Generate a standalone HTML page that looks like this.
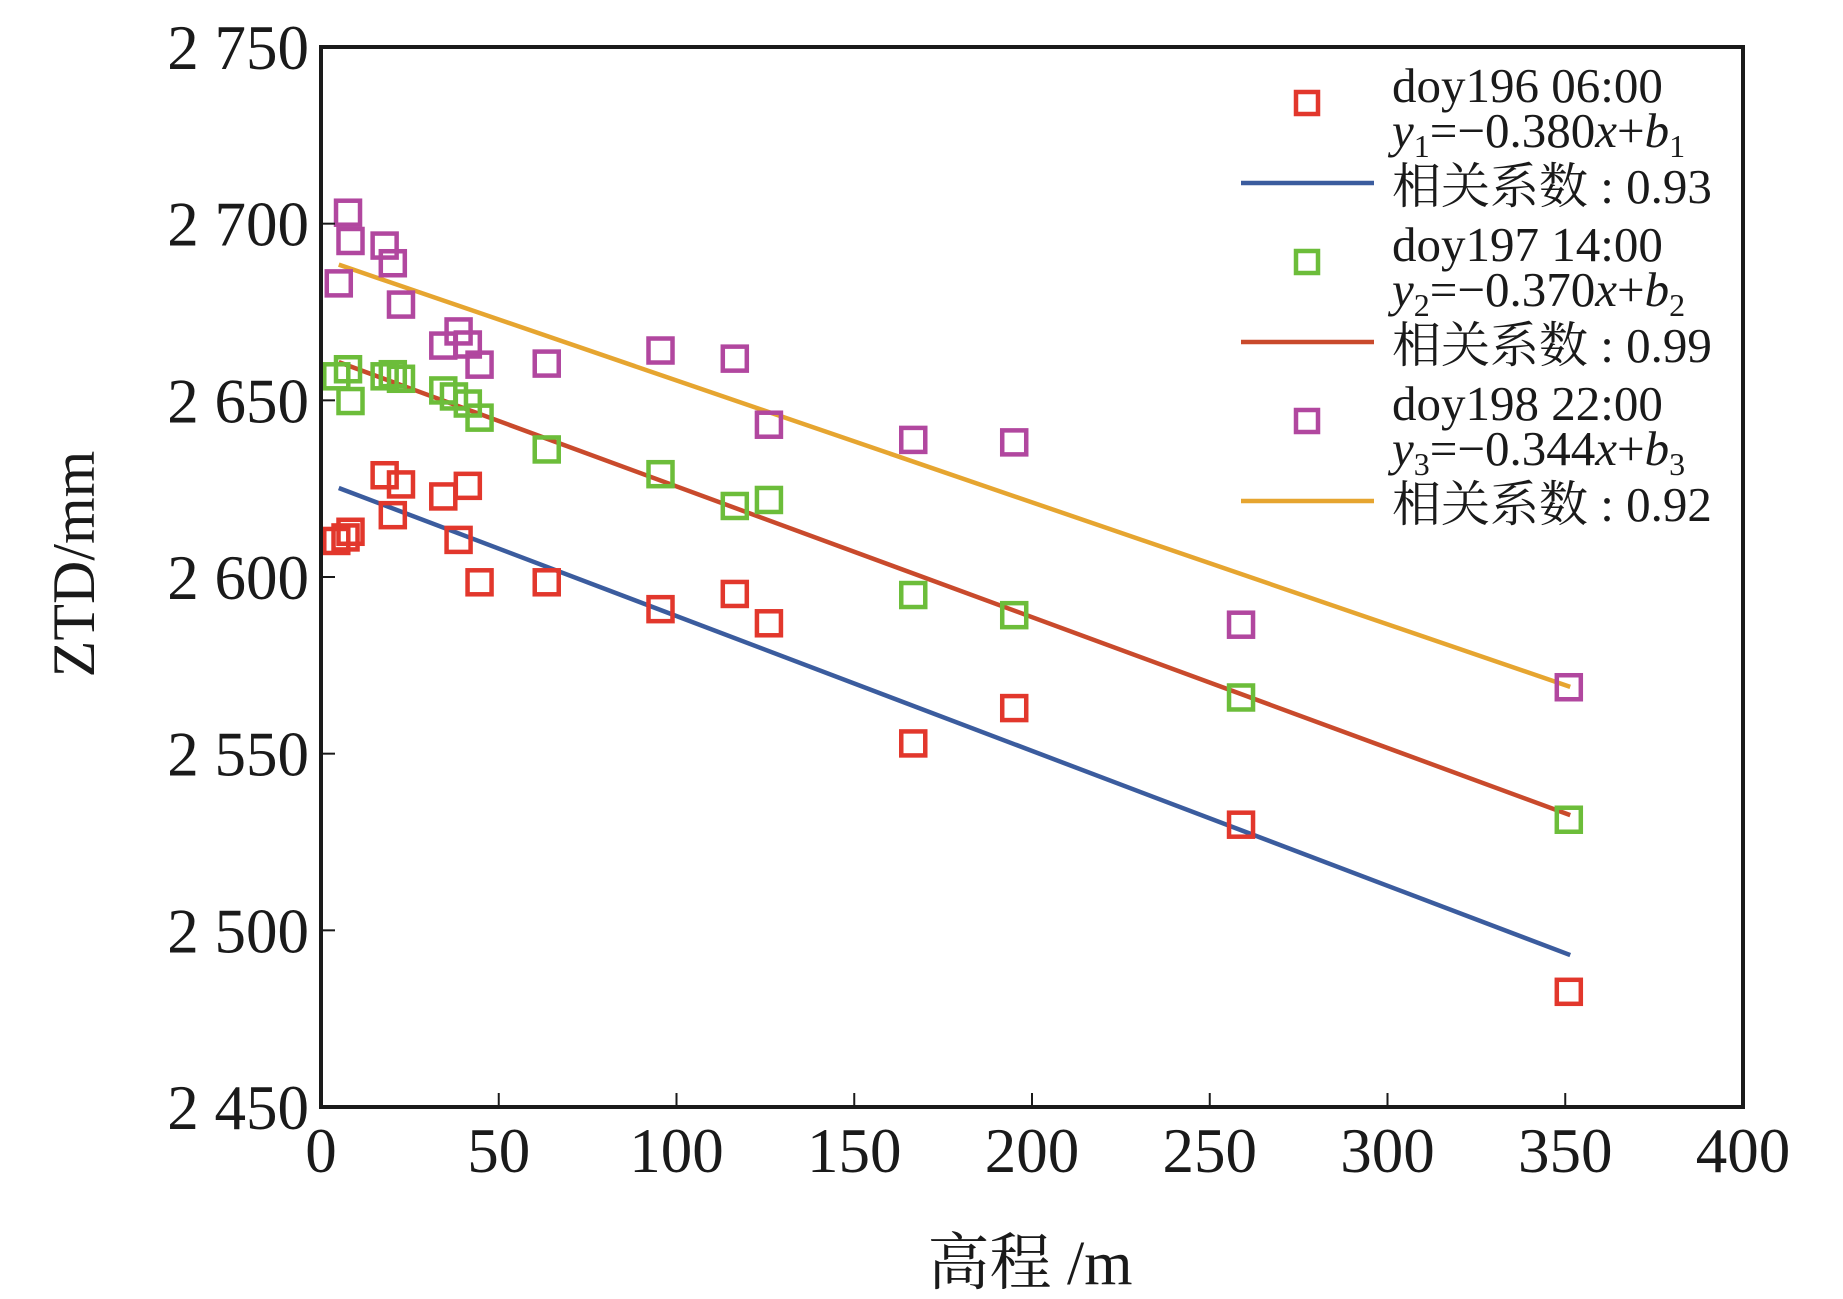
<!DOCTYPE html>
<html><head><meta charset="utf-8"><style>
html,body{margin:0;padding:0;background:#fff}
svg{display:block}
text{font-family:"Liberation Serif","Noto Serif CJK SC","Noto Sans CJK SC",serif;fill:#1a1a1a}
</style></head><body>
<svg id="chart" width="1843" height="1299" viewBox="0 0 1843 1299" xmlns="http://www.w3.org/2000/svg">
<g id="plot"></g>
</svg>
<script>
const xTicks=[0,50,100,150,200,250,300,350,400];
const yTicks=[2450,2500,2550,2600,2650,2700,2750];
const yTickLabels=["2 450","2 500","2 550","2 600","2 650","2 700","2 750"];
const heights=[4.3,6.9,8.3,17.9,20.2,22.5,34.4,38.7,41.3,44.6,63.5,95.5,116.4,126,166.6,195,258.8,351];
const ztd196=[2610.2,2611.2,2612.8,2628.8,2617.5,2626.2,2622.8,2610.5,2625.8,2598.5,2598.5,2590.9,2595.2,2586.9,2552.9,2562.9,2529.9,2482.6];
const heights197=[4.3,7.6,8.3,17.9,20.2,22.5,34.4,37.4,41.3,44.6,63.5,95.5,116.4,126,166.6,195,258.8,351];
const ztd197=[2656.8,2658.8,2649.8,2656.8,2657.4,2656.1,2652.8,2651.1,2649.1,2645.1,2636.1,2629.1,2620.1,2621.8,2594.9,2589.2,2565.9,2531.3];
const heights198=[5,7.6,8.3,17.9,20.2,22.5,34.4,38.7,41.3,44.6,63.5,95.5,116.4,126,166.6,195,258.8,351];
const ztd198=[2683.1,2703.1,2695.1,2693.8,2688.8,2677.1,2665.5,2669.5,2665.8,2660.1,2660.4,2664.1,2661.8,2643.1,2638.8,2638.1,2586.5,2568.8];
const fitX=[5,351.4];
const fit196=[2625.2,2493.0];
const fit197=[2660.8,2532.6];
const fit198=[2688.4,2568.9];

const L=321,R=1743,T=47,B=1107;
const X=v=>L+(v-0)*(R-L)/400;
const Y=v=>B-(v-2450)*(B-T)/300;
const NS="http://www.w3.org/2000/svg";
const svg=document.getElementById('chart');
function mk(tag,attrs,parent){const e=document.createElementNS(NS,tag);for(const k in attrs)e.setAttribute(k,attrs[k]);(parent||svg).appendChild(e);return e;}

const lines=[[fit196,'#3b5c9e','fit-line-doy196'],[fit197,'#c94a2c','fit-line-doy197'],[fit198,'#e6a530','fit-line-doy198']];
lines.forEach(([f,c,n])=>{
 const l=mk('line',{x1:X(fitX[0]),y1:Y(f[0]),x2:X(fitX[1]),y2:Y(f[1]),stroke:c,'stroke-width':4.5});
 
 
});
const series=[[heights,ztd196,'#e2372c','point-doy196'],[heights197,ztd197,'#6cbd3a','point-doy197'],[heights198,ztd198,'#b1479f','point-doy198']];
const s=24;
series.forEach(([xs,ys,c,n])=>{
 xs.forEach((x,i)=>{
  const r=mk('rect',{x:X(x)-s/2,y:Y(ys[i])-s/2,width:s,height:s,fill:'none',stroke:c,'stroke-width':4.5});
  
  
 });
});
const fr=mk('rect',{x:L,y:T,width:R-L,height:B-T,fill:'none',stroke:'#1a1a1a','stroke-width':4});


xTicks.forEach(v=>{
 const t=mk('line',{x1:X(v),y1:B,x2:X(v),y2:B-14,stroke:'#1a1a1a','stroke-width':2});
 
 
 const tx=mk('text',{x:X(v),y:1172,'text-anchor':'middle','font-size':63});
 tx.textContent=v;
 
 
});
yTicks.forEach((v,i)=>{
 const t=mk('line',{x1:L,y1:Y(v),x2:L+14,y2:Y(v),stroke:'#1a1a1a','stroke-width':2});
 
 
 const tx=mk('text',{x:309,y:Y(v)+22,'text-anchor':'end','font-size':63});
 tx.textContent=yTickLabels[i];
 
 
});
</script>
<svg style="position:absolute;left:0;top:0" width="1843" height="1299" xmlns="http://www.w3.org/2000/svg">
<text x="80" y="564" font-size="60" text-anchor="middle" transform="rotate(-90 80 564)" dominant-baseline="middle">ZTD/mm</text>
<text x="1030" y="1284" font-size="62" text-anchor="middle">高程 /m</text>
<g font-size="49">
 <rect x="1296" y="92" width="22" height="22" fill="none" stroke="#e2372c" stroke-width="4.5"/>
 <text x="1392" y="102">doy196 06:00</text>
 <text x="1392" y="147"><tspan font-style="italic">y</tspan><tspan font-size="32" dy="10">1</tspan><tspan dy="-10">=−0.380</tspan><tspan font-style="italic">x</tspan>+<tspan font-style="italic">b</tspan><tspan font-size="32" dy="10">1</tspan></text>
 <line x1="1241" y1="183" x2="1374" y2="183" stroke="#3b5c9e" stroke-width="4.5"/>
 <text x="1392" y="203">相关系数 : 0.93</text>

 <rect x="1296" y="251" width="22" height="22" fill="none" stroke="#6cbd3a" stroke-width="4.5"/>
 <text x="1392" y="261">doy197 14:00</text>
 <text x="1392" y="306"><tspan font-style="italic">y</tspan><tspan font-size="32" dy="10">2</tspan><tspan dy="-10">=−0.370</tspan><tspan font-style="italic">x</tspan>+<tspan font-style="italic">b</tspan><tspan font-size="32" dy="10">2</tspan></text>
 <line x1="1241" y1="342" x2="1374" y2="342" stroke="#c94a2c" stroke-width="4.5"/>
 <text x="1392" y="362">相关系数 : 0.99</text>

 <rect x="1296" y="410" width="22" height="22" fill="none" stroke="#b1479f" stroke-width="4.5"/>
 <text x="1392" y="420">doy198 22:00</text>
 <text x="1392" y="465"><tspan font-style="italic">y</tspan><tspan font-size="32" dy="10">3</tspan><tspan dy="-10">=−0.344</tspan><tspan font-style="italic">x</tspan>+<tspan font-style="italic">b</tspan><tspan font-size="32" dy="10">3</tspan></text>
 <line x1="1241" y1="501" x2="1374" y2="501" stroke="#e6a530" stroke-width="4.5"/>
 <text x="1392" y="521">相关系数 : 0.92</text>
</g>
</svg>
</body></html>
